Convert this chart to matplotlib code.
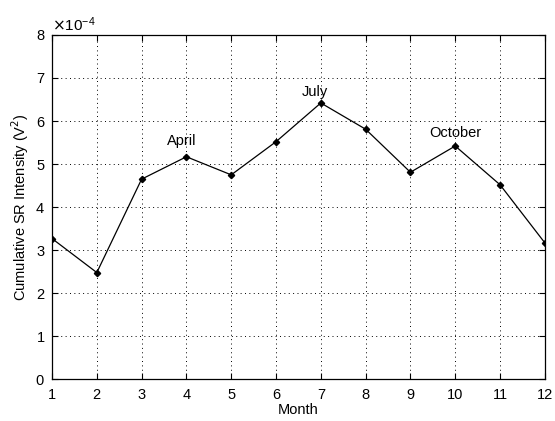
import matplotlib
matplotlib.use("Agg")
import matplotlib.pyplot as plt
from matplotlib.ticker import ScalarFormatter

plt.rcParams['font.family'] = ['Liberation Sans', 'DejaVu Sans']

# Intensidad acumulada por mes (V^2)
meses = [1, 2, 3, 4, 5, 6, 7, 8, 9, 10, 11, 12]
intensidad = [3.27e-4, 2.48e-4, 4.65e-4, 5.17e-4, 4.75e-4, 5.52e-4,
              6.42e-4, 5.81e-4, 4.81e-4, 5.42e-4, 4.52e-4, 3.17e-4]

etiquetas = ["April", "July", "October"]
etiq_x = [3.9, 6.87, 10.0]
etiq_y = [5.53e-4, 6.68e-4, 5.72e-4]

fig = plt.figure(figsize=(5.55, 4.21), dpi=100)
ax = fig.add_axes([0.0937, 0.099, 0.888, 0.818])

ax.plot(meses, intensidad, color="black", lw=0.9, marker="D", ms=3.2,
        mfc="black", mec="black")

for txt, x, y in zip(etiquetas, etiq_x, etiq_y):
    ax.text(x, y, txt, ha="center", va="center", fontsize=10.5)

ax.set_xlim(1, 12)
ax.set_ylim(0, 8e-4)
ax.set_xticks(meses)
ax.set_yticks([i * 1e-4 for i in range(9)])

fmt = ScalarFormatter(useMathText=True)
fmt.set_powerlimits((-3, 3))
ax.yaxis.set_major_formatter(fmt)
ax.yaxis.get_offset_text().set_fontsize(11)

ax.grid(True, color="black", linestyle=(0, (1, 3.5)), linewidth=0.7)
ax.tick_params(direction="in", top=True, right=True, labelsize=10.5,
               length=4, width=0.8)
ax.tick_params(axis="x", pad=6)
ax.tick_params(axis="y", pad=5)
for s in ax.spines.values():
    s.set_linewidth(0.9)

ax.set_xlabel("Month", fontsize=10.5, labelpad=1)
ax.set_ylabel("Cumulative SR Intensity (V$^2$)", fontsize=10.5, labelpad=3)

fig.canvas.draw()
ax.yaxis.get_offset_text().set_y(1.01)

fig.savefig("out.png", dpi=100)
